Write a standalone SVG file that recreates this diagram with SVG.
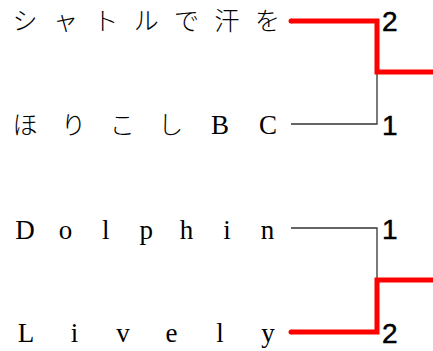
<svg xmlns="http://www.w3.org/2000/svg" width="433" height="351" viewBox="0 0 433 351">
<style>
.name{font-family:"Liberation Serif","Noto Sans CJK JP",serif;font-size:27px;fill:#000;text-anchor:middle}
.jp{font-family:"Noto Sans CJK JP","Liberation Serif",serif;font-size:25px;font-weight:300}
.seed{font-family:"Liberation Sans",Arial,sans-serif;font-size:28px;fill:#000;stroke:#000;stroke-width:0.5}
.lose{fill:none;stroke:#333;stroke-width:1.3}
.win{fill:none;stroke:#f00;stroke-width:5;stroke-linecap:butt;stroke-linejoin:miter}
</style>
<rect width="433" height="351" fill="#fff"/>
<g id="connectors">
<polyline class="lose" points="291,124 377,124 377,72"/>
<polyline class="lose" points="291,228 377,228 377,280"/>
<path class="win" d="M291,21 H377 V72 H433"/>
<path class="win" d="M291,332 H377 V280 H433"/>
<circle cx="291" cy="21" r="2.5" fill="#f00"/>
<circle cx="291" cy="332" r="2.5" fill="#f00"/>
</g>
<g id="team1"><text class="name jp" x="25 65.4 105.8 146.2 186.6 227 267.4" y="30">シャトルで汗を</text></g>
<g id="team2"><text class="name jp" x="25 73.6 122.2 170.8" y="134">ほりこし</text><text class="name" x="220 268" y="134">BC</text></g>
<g id="team3"><text class="name" x="25 65.4 105.8 146.2 186.6 227 267.4" y="239">Dolphin</text></g>
<g id="team4"><text class="name" x="26 74.5 123 171.5 220 268" y="342">Lively</text></g>
<g id="scores">
<text class="seed" x="382" y="31">2</text>
<text class="seed" x="382" y="135">1</text>
<text class="seed" x="382" y="239">1</text>
<text class="seed" x="382" y="343">2</text>
</g>
</svg>
